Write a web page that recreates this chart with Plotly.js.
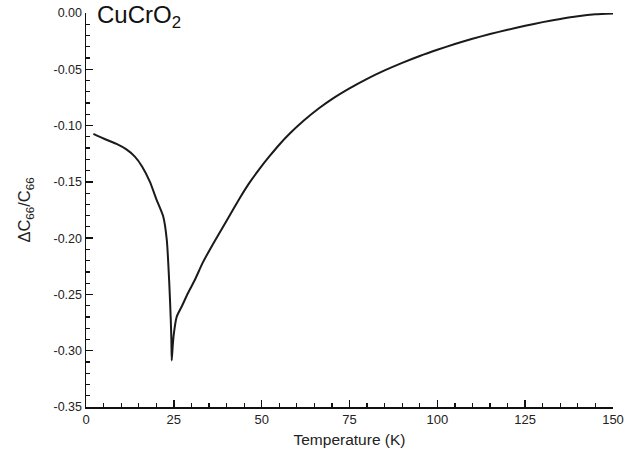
<!DOCTYPE html>
<html>
<head>
<meta charset="utf-8">
<script src="https://cdn.plot.ly/plotly-3.0.1.min.js"></script>
<style>html,body{margin:0;padding:0;background:#fff;}#plot{width:638px;height:459px;}</style>
</head>
<body>
<div id="plot"></div>
<script>
const temperature = [2.1, 5, 8.7, 11.5, 13.9, 16, 18.2, 20.1, 22, 23, 23.7, 24.1, 24.3, 24.4,
  24.7, 25.0, 25.8, 26.7, 27.2, 29, 31, 33.2, 36, 38.9, 41.5, 43.75, 46.6, 49.5, 52.3, 55, 58, 62,
  66.5, 70, 75, 80, 85, 90, 95, 100, 105, 110, 115, 120, 125, 130, 135, 140, 145, 150];
const deltaC = [-0.1074, -0.1115, -0.1163, -0.1212, -0.1276, -0.1365, -0.150, -0.166, -0.181, -0.2017, -0.240, -0.270, -0.290, -0.3087,
  -0.295, -0.285, -0.270, -0.264, -0.261, -0.249, -0.237, -0.222, -0.206, -0.1905, -0.1765, -0.1645, -0.1505, -0.1380, -0.1270, -0.1170, -0.1071, -0.0955,
  -0.0842, -0.0765, -0.0670, -0.0585, -0.0510, -0.0443, -0.0382, -0.0327, -0.0276, -0.0229, -0.0187, -0.0149, -0.0114, -0.0081, -0.0053, -0.0029, -0.0012, -0.0004];
const yTickVals = [0, -0.05, -0.10, -0.15, -0.20, -0.25, -0.30, -0.35];
const yTickText = ['0.00', '-0.05', '-0.10', '-0.15', '-0.20', '-0.25', '-0.30', '-0.35'];
const xTickVals = [0, 25, 50, 75, 100, 125, 150];

const trace = {
  x: temperature, y: deltaC, type: 'scatter', mode: 'lines',
  line: {color: '#1a1a1a', width: 2, shape: 'spline', smoothing: 0.6},
  hoverinfo: 'skip'
};
const font = {family: 'Liberation Sans, Arial, sans-serif', color: '#222'};
const layout = {
  width: 638, height: 459,
  margin: {l: 86, r: 25, t: 13, b: 52},
  paper_bgcolor: '#fff', plot_bgcolor: '#fff',
  showlegend: false,
  font: font,
  xaxis: {
    range: [0, 150], tickvals: xTickVals, ticks: 'inside', ticklen: 7, tickwidth: 1.5,
    tickcolor: '#111', showline: true, linecolor: '#111', linewidth: 1.5, mirror: false,
    showgrid: false, zeroline: false,
    minor: {dtick: 5, ticks: 'inside', ticklen: 4, tickwidth: 1.2, tickcolor: '#111', showgrid: false},
    tickfont: {size: 13, family: font.family, color: '#222'},
    title: {text: 'Temperature (K)', font: {size: 15.5, family: font.family, color: '#222'}, standoff: 8}
  },
  yaxis: {
    range: [-0.35, 0], tickvals: yTickVals, ticktext: yTickText, ticks: 'inside', ticklen: 7, tickwidth: 1.5,
    tickcolor: '#111', showline: true, linecolor: '#111', linewidth: 1.5, mirror: false,
    showgrid: false, zeroline: false,
    minor: {dtick: 0.01, ticks: 'inside', ticklen: 4, tickwidth: 1.2, tickcolor: '#111', showgrid: false},
    tickfont: {size: 12.5, family: font.family, color: '#222'},
    title: {text: 'ΔC<sub>66</sub>/C<sub>66</sub>', font: {size: 16.5, family: font.family, color: '#222'}, standoff: 18}
  },
  annotations: [{
    xref: 'paper', yref: 'paper', x: 0.018, y: 1.035, xanchor: 'left', yanchor: 'top',
    text: 'CuCrO<sub>2</sub>', showarrow: false,
    font: {size: 24, family: font.family, color: '#111'}
  }]
};
Plotly.newPlot('plot', [trace], layout, {staticPlot: true, displayModeBar: false});
</script>
</body>
</html>
